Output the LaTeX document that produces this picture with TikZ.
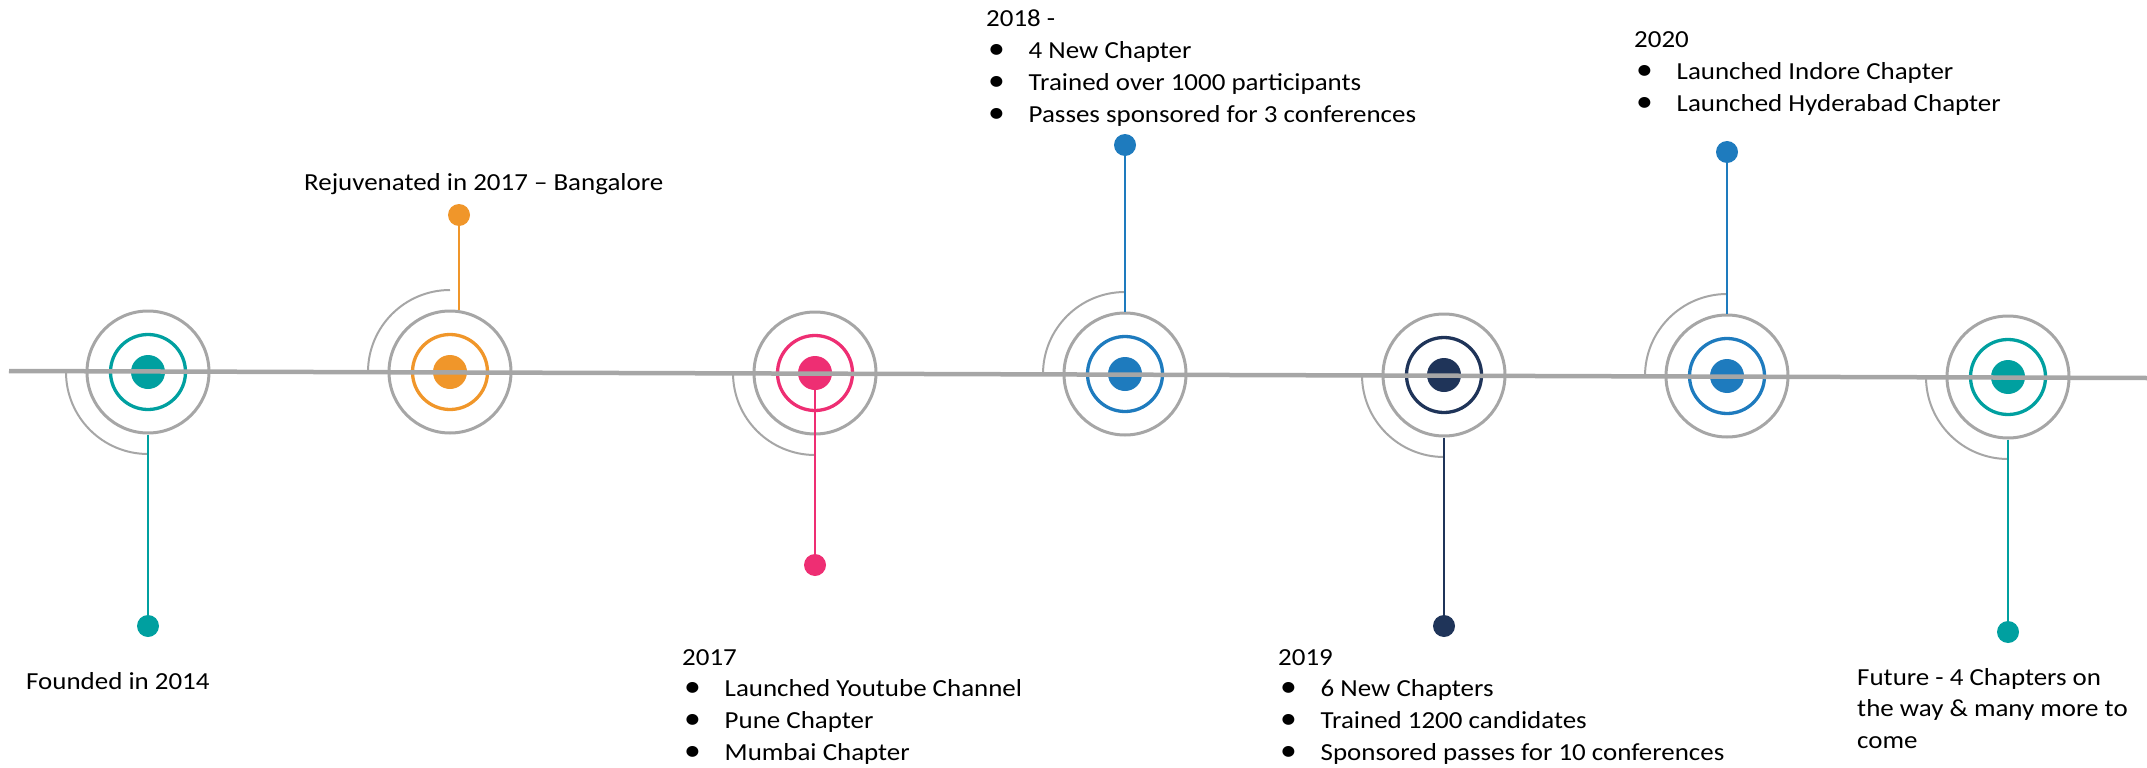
\documentclass[tikz,border=0pt]{standalone}
\usepackage{fontspec}
\setmainfont{Carlito}[FakeStretch=1.1]
\definecolor{tealc}{HTML}{00A0A0}
\definecolor{orangec}{HTML}{F0962A}
\definecolor{pinkc}{HTML}{EE2E73}
\definecolor{bluec}{HTML}{1E7BBE}
\definecolor{navyc}{HTML}{1F3459}
\definecolor{grayc}{HTML}{A6A6A6}
\newcommand{\bul}{\makebox[42.5pt][l]{\hspace{2pt}\scalebox{1.25}{\textbullet}}}
\begin{document}
\begin{tikzpicture}[x=1pt,y=-1pt,
  outer/.style={circle, draw=grayc, line width=3pt, minimum size=122pt, inner sep=0pt},
  ring/.style={circle, draw=#1, line width=3.3pt, minimum size=75pt, inner sep=0pt},
  core/.style={circle, fill=#1, minimum size=34pt, inner sep=0pt},
  enddot/.style={circle, fill=#1, minimum size=22pt, inner sep=0pt},
  conn/.style={draw=#1, line width=2.5pt},
  halo/.style={draw=grayc, line width=2pt},
  mainline/.style={draw=grayc, line width=4.5pt},
  lbl/.style={anchor=base west, inner sep=0pt, font=\fontsize{24.5}{31.7}\selectfont}]
\useasboundingbox (0,0) rectangle (2147,768);

% centres
\coordinate (c1) at (148,372);
\coordinate (c2) at (450,372);
\coordinate (c3) at (815,373);
\coordinate (c4) at (1125,374);
\coordinate (c5) at (1444,375);
\coordinate (c6) at (1727,376);
\coordinate (c7) at (2008,377);
\coordinate (L) at (9,371);
\coordinate (R) at (2147,378);

% halo arcs
\draw[halo] (c1) ++(-82,0) arc[start angle=180, end angle=90, radius=82];
\draw[halo] (c2) ++(-82,0) arc[start angle=180, end angle=270, radius=82];
\draw[halo] (c3) ++(-82,0) arc[start angle=180, end angle=90, radius=82];
\draw[halo] (c4) ++(-82,0) arc[start angle=180, end angle=270, radius=82];
\draw[halo] (c5) ++(-82,0) arc[start angle=180, end angle=90, radius=82];
\draw[halo] (c6) ++(-82,0) arc[start angle=180, end angle=270, radius=82];
\draw[halo] (c7) ++(-82,0) arc[start angle=180, end angle=90, radius=82];

% target circles
\foreach \i/\c in {1/tealc,2/orangec,3/pinkc,4/bluec,5/navyc,6/bluec,7/tealc}{
  \node[outer] (o\i) at (c\i) {};
  \node[ring=\c] (r\i) at (c\i) {};
  \node[core=\c] (k\i) at (c\i) {};
}

% end dots
\node[enddot=tealc]   (e1) at (148,626) {};
\node[enddot=orangec] (e2) at (459,215) {};
\node[enddot=pinkc]   (e3) at (815,565) {};
\node[enddot=bluec]   (e4) at (1125,145) {};
\node[enddot=navyc]   (e5) at (1444,626) {};
\node[enddot=bluec]   (e6) at (1727,152) {};
\node[enddot=tealc]   (e7) at (2008,632) {};

% connectors
\draw[conn=tealc]   (o1.south) -- (e1.center);
\draw[conn=orangec] (e2.center) -- (e2.center |- o2.north);
\draw[conn=pinkc]   (k3.center) -- (e3.center);
\draw[conn=bluec]   (o4.north) -- (e4.center);
\draw[conn=navyc]   (o5.south) -- (e5.center);
\draw[conn=bluec]   (o6.north) -- (e6.center);
\draw[conn=tealc]   (o7.south) -- (e7.center);

% main timeline
\draw[mainline] (L) -- (R);

% labels
\node[lbl] (t1) at (26,689) {Founded in 2014};
\node[lbl] (t2) at (304,190) {Rejuvenated in 2017 – Bangalore};
\node[lbl] (t3) at (682,665) {\begin{tabular}[t]{@{}l@{}}2017\\
  \bul Launched Youtube Channel\\ \bul Pune Chapter\\ \bul Mumbai Chapter\end{tabular}};
\node[lbl] (t4) at (986,27) {\begin{tabular}[t]{@{}l@{}}2018 -\\
  \bul 4 New Chapter\\ \bul Trained over 1000 participants\\ \bul Passes sponsored for 3 conferences\end{tabular}};
\node[lbl] (t5) at (1278,665) {\begin{tabular}[t]{@{}l@{}}2019\\
  \bul 6 New Chapters\\ \bul Trained 1200 candidates\\ \bul Sponsored passes for 10 conferences\end{tabular}};
\node[lbl] (t6) at (1634,48) {\begin{tabular}[t]{@{}l@{}}2020\\
  \bul Launched Indore Chapter\\ \bul Launched Hyderabad Chapter\end{tabular}};
\node[lbl] (t7) at (1857,685) {\begin{tabular}[t]{@{}l@{}}Future - 4 Chapters on\\
  the way \& many more to\\ come\end{tabular}};
\end{tikzpicture}
\end{document}
